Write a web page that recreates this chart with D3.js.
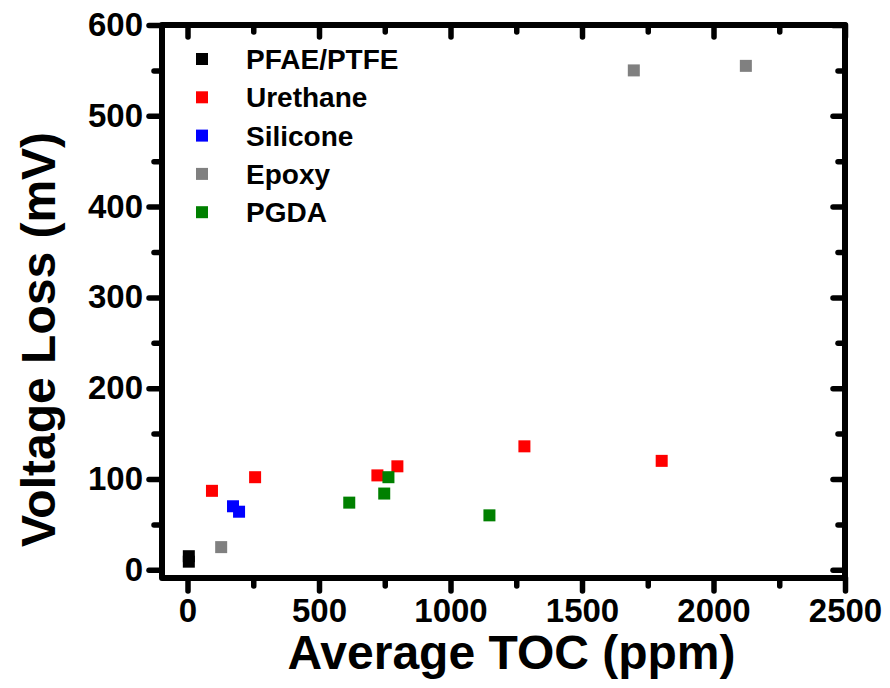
<!DOCTYPE html>
<html><head><meta charset="utf-8">
<script src="https://cdn.jsdelivr.net/npm/d3@7/dist/d3.min.js"></script>
<style>
html,body{margin:0;padding:0;background:#fff;}
svg{display:block;font-family:Arial,"Liberation Sans",sans-serif;font-weight:bold;}
</style></head>
<body><svg id="c" width="890" height="688"></svg>
<script>
const seriesNames = ["PFAE/PTFE","Urethane","Silicone","Epoxy","PGDA"];
const seriesColors = ["#000000","#ff0000","#0000ff","#808080","#008000"];
const pfaeX = [5, 5];        const pfaeY = [15, 9];
const urethaneX = [93, 257, 722, 798, 1281, 1803];
const urethaneY = [87, 102, 104, 114, 136, 120];
const siliconeX = [173, 196]; const siliconeY = [70, 64];
const epoxyX = [128, 1697, 2123]; const epoxyY = [25, 550, 555];
const pgdaX = [615, 748, 764, 1148]; const pgdaY = [74, 84, 102, 60];
const xTicks = [0, 500, 1000, 1500, 2000, 2500];
const yTicks = [0, 100, 200, 300, 400, 500, 600];
const xTitle = "Average TOC (ppm)";
const yTitle = "Voltage Loss (mV)";

const series = [
  {x: pfaeX, y: pfaeY}, {x: urethaneX, y: urethaneY}, {x: siliconeX, y: siliconeY},
  {x: epoxyX, y: epoxyY}, {x: pgdaX, y: pgdaY}
].map((s, i) => ({name: seriesNames[i], color: seriesColors[i], pts: s.x.map((v, j) => [v, s.y[j]])}));

const L = 162, R = 845, T = 25, B = 578;
const x = d3.scaleLinear().domain([-97, 2500]).range([L, R]);
const y = d3.scaleLinear().domain([-9, 600]).range([B, T]);
const svg = d3.select("#c");

const xMinor = d3.range(250, 2500, 500);
const yMinor = d3.range(50, 600, 100);

function styleAxis(g, label) {
  g.select(".domain").remove();
  g.selectAll(".tick line").attr("stroke", "#000").attr("stroke-width", 5.5).attr("stroke-linecap", "round");
  g.selectAll(".tick text").attr("font-size", 33).attr("font-weight", "bold").attr("fill", "#000")
    .attr("font-family", "Arial, 'Liberation Sans', sans-serif").style("display", label ? null : "none");
}

// bottom (outward)
svg.append("g").attr("transform", `translate(0,${B})`)
  .call(d3.axisBottom(x).tickValues(xTicks).tickSize(13).tickPadding(8).tickFormat(d3.format("d"))).call(g => styleAxis(g, true));
svg.append("g").attr("transform", `translate(0,${B})`)
  .call(d3.axisBottom(x).tickValues(xMinor).tickSize(8).tickFormat("")).call(g => styleAxis(g, false));
// top (inward)
svg.append("g").attr("transform", `translate(0,${T})`)
  .call(d3.axisBottom(x).tickValues(xTicks).tickSize(12).tickFormat("")).call(g => styleAxis(g, false));
svg.append("g").attr("transform", `translate(0,${T})`)
  .call(d3.axisBottom(x).tickValues(xMinor).tickSize(7).tickFormat("")).call(g => styleAxis(g, false));
// left (outward)
svg.append("g").attr("transform", `translate(${L},0)`)
  .call(d3.axisLeft(y).tickValues(yTicks).tickSize(13).tickPadding(6).tickFormat(d3.format("d"))).call(g => styleAxis(g, true));
svg.append("g").attr("transform", `translate(${L},0)`)
  .call(d3.axisLeft(y).tickValues(yMinor).tickSize(8).tickFormat("")).call(g => styleAxis(g, false));
// right (inward)
svg.append("g").attr("transform", `translate(${R},0)`)
  .call(d3.axisLeft(y).tickValues(yTicks).tickSize(12).tickFormat("")).call(g => styleAxis(g, false));
svg.append("g").attr("transform", `translate(${R},0)`)
  .call(d3.axisLeft(y).tickValues(yMinor).tickSize(7).tickFormat("")).call(g => styleAxis(g, false));

// frame
svg.append("rect").attr("x", L).attr("y", T).attr("width", R - L).attr("height", B - T)
  .attr("fill", "none").attr("stroke", "#000").attr("stroke-width", 6).attr("stroke-linejoin", "round");

// points
const S = 12;
series.forEach(s => {
  svg.append("g").selectAll("rect").data(s.pts).join("rect")
    .attr("x", d => x(d[0]) - S / 2).attr("y", d => y(d[1]) - S / 2)
    .attr("width", S).attr("height", S).attr("fill", s.color);
});

// legend
const lg = svg.append("g");
series.forEach((s, i) => {
  const cy = 59 + i * 38.3;
  lg.append("rect").attr("x", 202 - 6).attr("y", cy - 6).attr("width", 12).attr("height", 12).attr("fill", s.color);
  lg.append("text").attr("x", 246).attr("y", cy + 10).attr("font-size", 28).attr("fill", "#000").text(s.name);
});

// titles
svg.append("text").attr("x", (L + R) / 2 + 8).attr("y", 669).attr("text-anchor", "middle")
  .attr("font-size", 48).attr("fill", "#000").text(xTitle);
svg.append("text").attr("transform", `translate(55,${(T + B) / 2 + 38}) rotate(-90)`).attr("text-anchor", "middle")
  .attr("font-size", 48).attr("fill", "#000").text(yTitle);
</script></body></html>
